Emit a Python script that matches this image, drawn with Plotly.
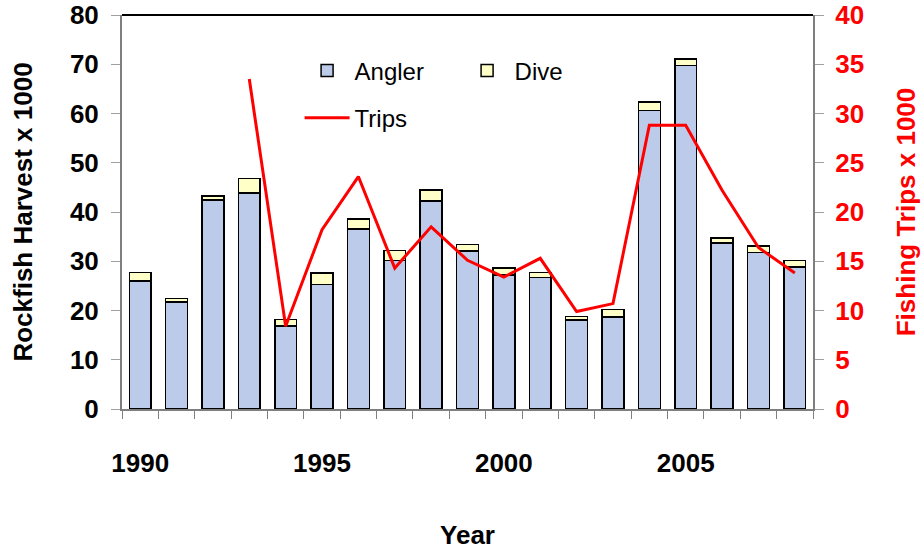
import plotly.graph_objects as go

years = list(range(1990, 2009))
angler = [26.0, 21.7, 42.4, 43.9, 16.9, 25.3, 36.6, 30.2, 42.2, 32.1,
          27.2, 26.7, 18.1, 18.7, 60.6, 69.7, 33.7, 31.8, 28.8]
total = [27.7, 22.4, 43.2, 46.8, 18.2, 27.6, 38.6, 32.2, 44.5, 33.4,
         28.6, 27.7, 18.8, 20.2, 62.3, 71.1, 34.7, 33.1, 30.2]
dive = [round(t - a, 2) for t, a in zip(total, angler)]
trip_years = list(range(1993, 2009))
trips = [33.5, 8.4, 18.2, 23.6, 14.3, 18.5, 15.1, 13.4, 15.3, 9.9,
         10.7, 28.8, 28.8, 22.2, 16.4, 13.8]
year_labels = [1990, 1995, 2000, 2005]

FONT = "Liberation Sans, Arial, sans-serif"

fig = go.Figure()
fig.add_trace(go.Bar(x=years, y=angler, name="Angler", width=0.6,
                     marker=dict(color="#bccbea", line=dict(color="black", width=1.5)),
                     legend="legend"))
fig.add_trace(go.Bar(x=years, y=dive, name="Dive", width=0.6,
                     marker=dict(color="#ffffc8", line=dict(color="black", width=1.5)),
                     legend="legend"))
fig.add_trace(go.Scatter(x=trip_years, y=trips, name="Trips", mode="lines",
                         line=dict(color="#ff0000", width=3), yaxis="y2",
                         legend="legend2"))

fig.update_layout(
    width=922, height=550,
    margin=dict(l=122, r=109, t=15, b=141, autoexpand=False),
    barmode="stack",
    plot_bgcolor="white", paper_bgcolor="white",
    font=dict(family=FONT, color="black"),
    xaxis=dict(range=[1989.5, 2008.5], tickvals=year_labels, ticks="",
               tickfont=dict(size=26, family=FONT, weight="bold"),
               ticklabelstandoff=30, automargin=False, ticklabeloverflow="allow",
               showline=True, linecolor="#7f7f7f", linewidth=2, mirror=False,
               minor=dict(tickmode="linear", tick0=1989.5, dtick=1, ticks="outside",
                          ticklen=8, tickcolor="#7f7f7f", tickwidth=1),
               title=dict(text="<b>Year</b>", font=dict(size=26), standoff=49),
               showgrid=False, zeroline=False),
    yaxis=dict(range=[0, 80], dtick=10, ticks="outside", ticklen=9,
               tickcolor="#a0a0a0", tickwidth=1, automargin=False,
               ticklabelstandoff=7, ticklabeloverflow="allow",
               tickfont=dict(size=26, family=FONT, weight="bold"),
               showline=True, linecolor="#7f7f7f", linewidth=2,
               title=dict(text="<b>Rockfish Harvest x 1000</b>", font=dict(size=26), standoff=30),
               showgrid=False, zeroline=False),
    yaxis2=dict(range=[0, 40], dtick=5, overlaying="y", side="right",
                ticks="outside", ticklen=9, tickcolor="#a0a0a0", tickwidth=1,
                automargin=False, ticklabelstandoff=6, ticklabeloverflow="allow",
                tickfont=dict(size=26, family=FONT, weight="bold", color="#ff0000"),
                showline=True, linecolor="#7f7f7f", linewidth=2,
                title=dict(text="<b>Fishing Trips x 1000</b>", font=dict(size=26, color="#ff0000"), standoff=34),
                showgrid=False, zeroline=False),
    legend=dict(orientation="h", x=0.257, y=0.915, xanchor="left", yanchor="top",
                font=dict(size=24), bgcolor="rgba(0,0,0,0)", itemwidth=45,
                entrywidth=100, traceorder="normal"),
    legend2=dict(orientation="h", x=0.257, y=0.795, xanchor="left", yanchor="top",
                 font=dict(size=24), bgcolor="rgba(0,0,0,0)", itemwidth=45),
    shapes=[dict(type="line", xref="paper", yref="paper", x0=0, x1=1, y0=1, y1=1,
                 line=dict(color="black", width=2))],
)

fig.write_html("out.html", config={"displayModeBar": False},
               post_script="document.body.style.margin='0';document.body.style.overflow='hidden';")
